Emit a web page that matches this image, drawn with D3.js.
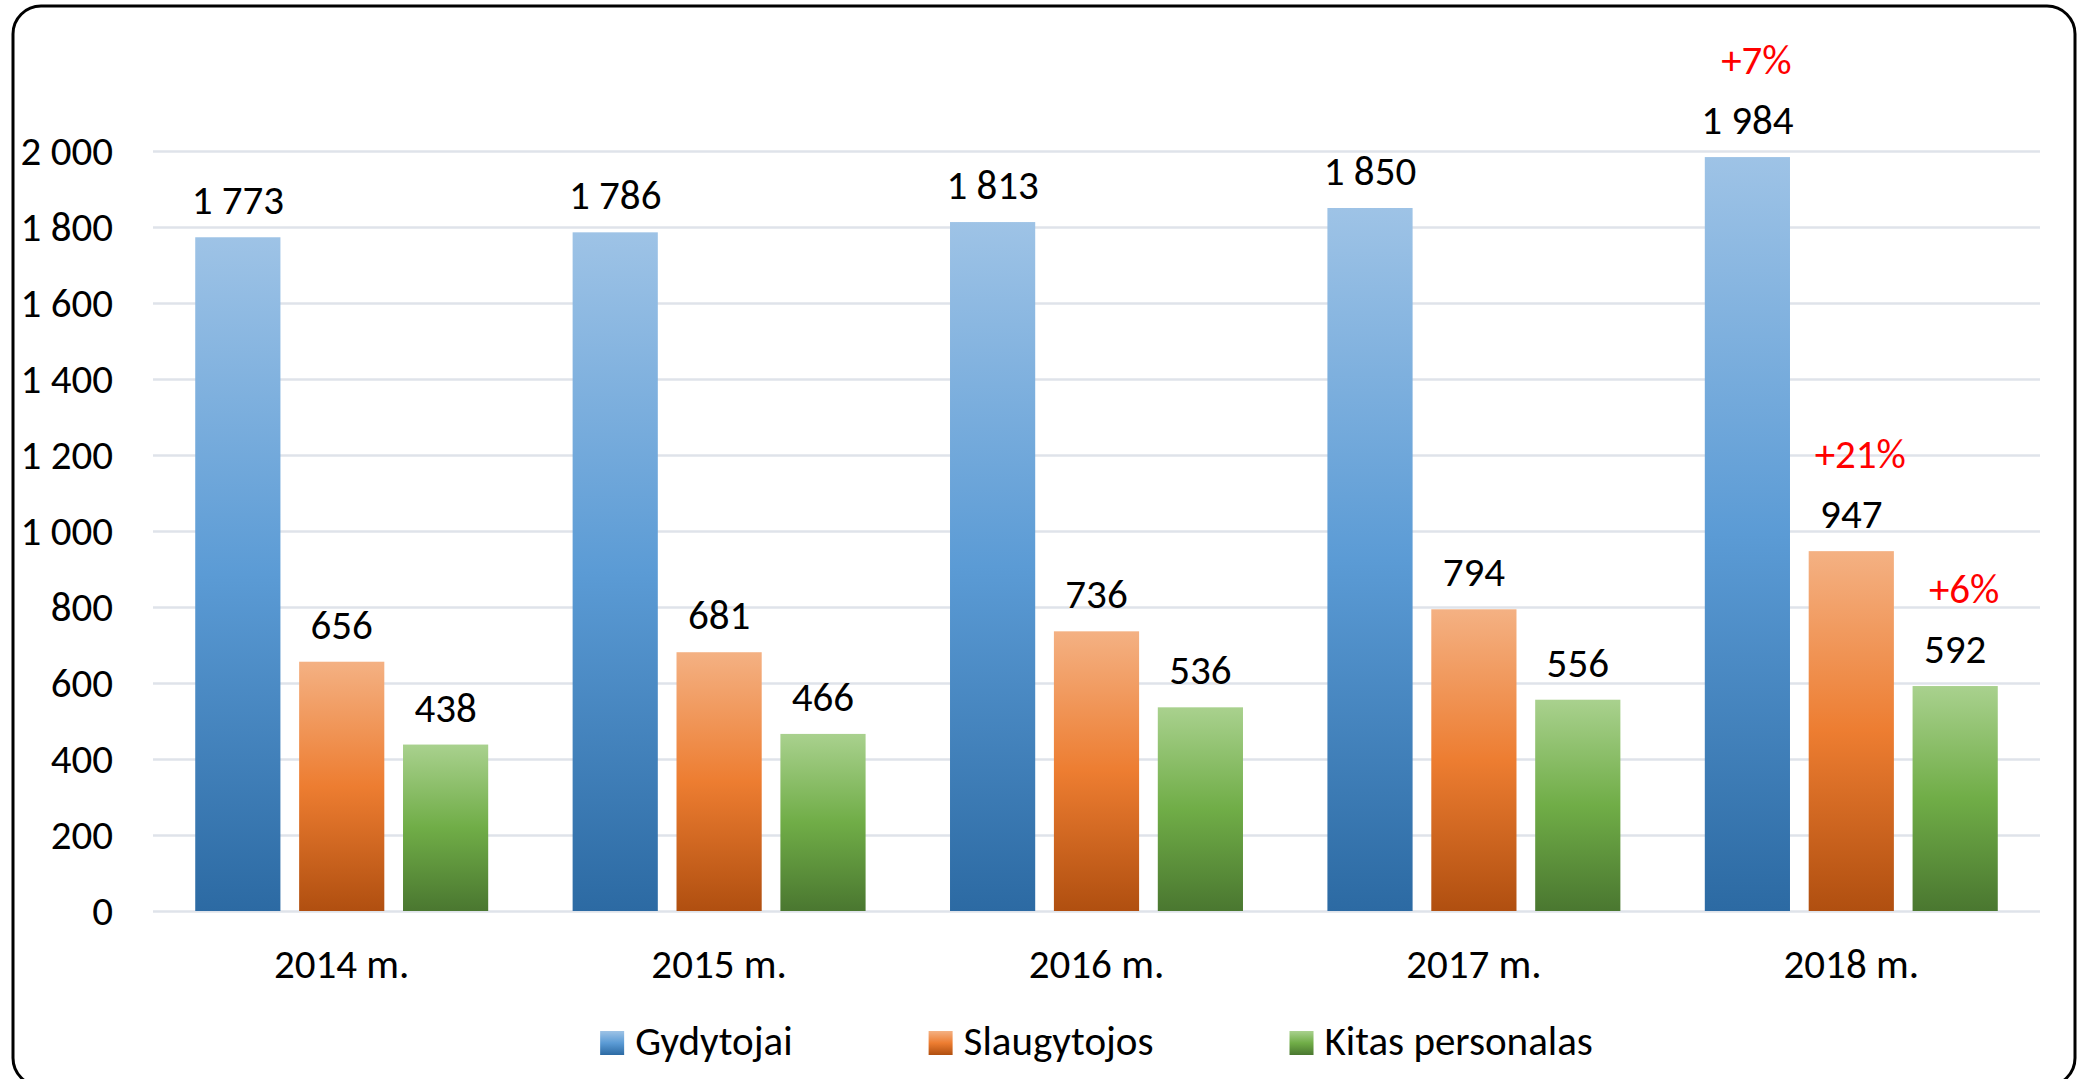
<!DOCTYPE html>
<meta charset="utf-8">
<script src="https://d3js.org/d3.v7.min.js"></script>
<style>
  body { margin: 0; background: #fff; }
  text { font-family: Carlito, Calibri, "Open Sans", sans-serif; }
</style>
<div id="chart"></div>
<script>

// data
var years = ["2014 m.", "2015 m.", "2016 m.", "2017 m.", "2018 m."];
var seriesNames = ["Gydytojai", "Slaugytojos", "Kitas personalas"];
var gydytojai = [1773, 1786, 1813, 1850, 1984];
var slaugytojos = [656, 681, 736, 794, 947];
var kitas = [438, 466, 536, 556, 592];
var yTicks = [0, 200, 400, 600, 800, 1000, 1200, 1400, 1600, 1800, 2000];
// growth notes on the last year: series index, text
var notes = [
  {year: "2018 m.", series: 0, text: "+7%"},
  {year: "2018 m.", series: 1, text: "+21%"},
  {year: "2018 m.", series: 2, text: "+6%"}
];

var W = 2087, H = 1079;
var margin = {left: 153, right: 47, top: 151, bottom: 168};
var width = W - margin.left - margin.right,
    height = H - margin.top - margin.bottom;
var fs = 41;

var svg = d3.select("#chart").append("svg")
  .attr("width", W)
  .attr("height", H);

// gradients (light top -> base -> dark bottom)
var grads = [
  ["#9ec3e6", "#5b9bd5", "#2c6aa3"],
  ["#f4b183", "#ed7d31", "#b04f10"],
  ["#a9d18e", "#70ad47", "#4a7730"]
];
var defs = svg.append("defs");
grads.forEach(function (g, i) {
  var lg = defs.append("linearGradient")
    .attr("id", "grad" + i)
    .attr("x1", 0).attr("y1", 0).attr("x2", 0).attr("y2", 1);
  lg.append("stop").attr("offset", "0%").attr("stop-color", g[0]);
  lg.append("stop").attr("offset", "50%").attr("stop-color", g[1]);
  lg.append("stop").attr("offset", "100%").attr("stop-color", g[2]);
});

// frame
svg.append("rect")
  .attr("x", 13).attr("y", 6)
  .attr("width", 2062).attr("height", 1080)
  .attr("rx", 28).attr("ry", 28)
  .attr("fill", "none")
  .attr("stroke", "#000")
  .attr("stroke-width", 3);

var g = svg.append("g")
  .attr("transform", "translate(" + margin.left + "," + margin.top + ")");

var x0 = d3.scaleBand()
  .domain(years)
  .range([0, width])
  .paddingInner(0.2237)
  .paddingOuter(0.1119);

var x1 = d3.scaleBand()
  .domain([0, 1, 2])
  .range([0, x0.bandwidth()])
  .paddingInner(0.18);

var y = d3.scaleLinear()
  .domain([0, 2000])
  .range([height, 0]);

// gridlines + y labels
var yAxis = g.append("g")
  .call(d3.axisLeft(y).tickValues(yTicks).tickSize(-width).tickPadding(40)
    .tickFormat(function (d) { return d3.format(",")(d).replace(",", " "); }));
yAxis.select(".domain").remove();
yAxis.selectAll(".tick line").attr("stroke", "#dfe3ea").attr("stroke-width", 2.5);
yAxis.selectAll(".tick text")
  .attr("font-size", fs)
  .attr("fill", "#000")
  .attr("dy", "0.33em");

// x labels
var xAxis = g.append("g")
  .attr("transform", "translate(0," + height + ")")
  .call(d3.axisBottom(x0).tickSize(0).tickPadding(40));
xAxis.select(".domain").remove();
xAxis.selectAll(".tick text")
  .attr("font-size", fs)
  .attr("fill", "#000")
  .attr("dy", "0.66em");

var series = [gydytojai, slaugytojos, kitas];
var rows = years.map(function (yr, i) {
  return {year: yr, values: series.map(function (s, k) { return {k: k, v: s[i]}; })};
});

var groups = g.selectAll(".grp")
  .data(rows)
  .join("g")
  .attr("class", "grp")
  .attr("transform", function (d) { return "translate(" + x0(d.year) + ",0)"; });

groups.selectAll("rect")
  .data(function (d) { return d.values; })
  .join("rect")
  .attr("x", function (d) { return x1(d.k); })
  .attr("y", function (d) { return y(d.v); })
  .attr("width", x1.bandwidth())
  .attr("height", function (d) { return height - y(d.v); })
  .attr("fill", function (d) { return "url(#grad" + d.k + ")"; });

groups.selectAll(".val")
  .data(function (d) { return d.values; })
  .join("text")
  .attr("class", "val")
  .attr("x", function (d) { return x1(d.k) + x1.bandwidth() / 2; })
  .attr("y", function (d) { return y(d.v) - 23; })
  .attr("text-anchor", "middle")
  .attr("font-size", fs)
  .text(function (d) { return d3.format(",")(d.v).replace(",", " "); });

// red growth notes
g.selectAll(".note")
  .data(notes)
  .join("text")
  .attr("class", "note")
  .attr("x", function (d) { return x0(d.year) + x1(d.series) + x1.bandwidth() / 2 + 9; })
  .attr("y", function (d) { return y(series[d.series][years.indexOf(d.year)]) - 23 - 60; })
  .attr("text-anchor", "middle")
  .attr("font-size", fs)
  .attr("fill", "#ff0000")
  .text(function (d) { return d.text; });

// legend
var legend = svg.append("g");
var items = legend.selectAll("g")
  .data(seriesNames)
  .join("g");
items.append("rect")
  .attr("y", 1031)
  .attr("width", 24)
  .attr("height", 24)
  .attr("fill", function (d, i) { return "url(#grad" + i + ")"; });
items.append("text")
  .attr("x", 35)
  .attr("y", 1055)
  .attr("font-size", fs)
  .text(function (d) { return d; });

var gap = 136, xpos = 0, offs = [];
items.each(function () {
  offs.push(xpos);
  xpos += this.getBBox().width + gap;
});
var total = xpos - gap;
var start = margin.left + width / 2 - total / 2;
items.attr("transform", function (d, i) { return "translate(" + (start + offs[i]) + ",0)"; });

</script>
